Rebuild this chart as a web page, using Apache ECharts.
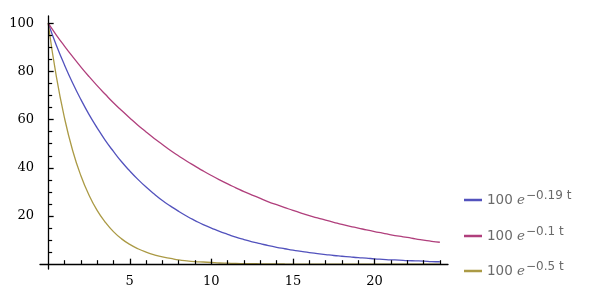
<!DOCTYPE html>
<html>
<head>
<meta charset="utf-8">
<script src="https://cdn.jsdelivr.net/npm/echarts@6/dist/echarts.min.js"></script>
<style>html,body{margin:0;padding:0;background:#fff;}#c{width:600px;height:299px;}</style>
</head>
<body>
<div id="c"></div>
<script>
var tValues = [0,0.5,1,1.5,2,2.5,3,3.5,4,4.5,5,5.5,6,6.5,7,7.5,8,8.5,9,9.5,10,10.5,11,11.5,12,12.5,13,13.5,14,14.5,15,15.5,16,16.5,17,17.5,18,18.5,19,19.5,20,20.5,21,21.5,22,22.5,23,23.5,24];
var seriesA = [100,90.9,82.7,75.2,68.4,62.2,56.6,51.4,46.8,42.5,38.7,35.2,32.0,29.1,26.4,24.1,21.9,19.9,18.1,16.4,15.0,13.6,12.4,11.2,10.2,9.3,8.5,7.7,7.0,6.4,5.8,5.3,4.8,4.4,4.0,3.6,3.3,3.0,2.7,2.5,2.2,2.0,1.8,1.7,1.5,1.4,1.3,1.1,1.0];
var seriesB = [100,95.1,90.5,86.1,81.9,77.9,74.1,70.5,67.0,63.8,60.7,57.7,54.9,52.2,49.7,47.2,44.9,42.7,40.7,38.7,36.8,35.0,33.3,31.7,30.1,28.7,27.3,25.9,24.7,23.5,22.3,21.2,20.2,19.2,18.3,17.4,16.5,15.7,15.0,14.2,13.5,12.9,12.2,11.6,11.1,10.5,10.0,9.5,9.1];
var seriesC = [100,77.9,60.7,47.2,36.8,28.7,22.3,17.4,13.5,10.5,8.2,6.4,5.0,3.9,3.0,2.4,1.8,1.4,1.1,0.9,0.7,0.5,0.4,0.3,0.25,0.2,0.15,0.12,0.1,0.07,0.06,0.04,0.03,0.03,0.02,0.02,0.01,0.01,0.01,0.01,0.0,0.0,0.0,0.0,0.0,0.0,0.0,0.0,0.0];
var seriesNames = ['a', 'b', 'c'];
var exponents = ['\u22120.19 t', '\u22120.1 t', '\u22120.5 t'];
var colors = ['#5252bd', '#b03f7c', '#ab9a45'];
var xTickLabels = [5, 10, 15, 20];
var yTickLabels = [20, 40, 60, 80, 100];
var xMinorTicks = [1,2,3,4,6,7,8,9,11,12,13,14,16,17,18,19,21,22,23,24];
var yMinorTicks = [5,10,15,25,30,35,45,50,55,65,70,75,85,90,95];

function pairs(vals) { return tValues.map(function (t, i) { return [t, vals[i]]; }); }
var allVals = [seriesA, seriesB, seriesC];

var chart = echarts.init(document.getElementById('c'), null, {renderer: 'canvas'});
var labelFont = {fontFamily: 'DejaVu Serif', fontSize: 13, color: '#000'};
var legendTops = [185, 221, 256];
var legends = seriesNames.map(function (n, i) {
  return {
    show: true, orient: 'vertical', left: 459, top: legendTops[i],
    data: [{name: n, icon: 'rect'}], itemWidth: 18, itemHeight: 2.5, itemGap: 0,
    selectedMode: false,
    formatter: function () { return '{n|100 }{e|e}{s|' + exponents[i] + '}'; },
    textStyle: {
      color: '#6a6a6a',
      rich: {
        n: {fontFamily: 'DejaVu Sans', fontSize: 13.5, lineHeight: 20, color: '#6a6a6a'},
        e: {fontFamily: 'DejaVu Serif', fontStyle: 'italic', fontSize: 13.5, lineHeight: 20, color: '#6a6a6a'},
        s: {fontFamily: 'DejaVu Sans', fontSize: 12, lineHeight: 11, verticalAlign: 'top', color: '#6a6a6a', padding: [0, 0, 0, 1]}
      }
    }
  };
});

chart.setOption({
  animation: false,
  backgroundColor: '#fff',
  grid: {left: 40, right: 152, top: 16, bottom: 30, containLabel: false},
  legend: legends,
  xAxis: [{
    type: 'value', min: -0.5, max: 24.5, position: 'bottom', z: 5,
    axisLine: {show: true, onZero: true, lineStyle: {color: '#000', width: 1.3}},
    axisTick: {show: true, inside: true, length: 5.5, customValues: xTickLabels, lineStyle: {color: '#000', width: 1.3}},
    axisLabel: Object.assign({show: true, margin: 6, customValues: xTickLabels}, labelFont),
    splitLine: {show: false}
  }, {
    type: 'value', min: -0.5, max: 24.5, position: 'top', z: 5,
    axisLine: {show: false, onZero: true, onZeroAxisIndex: 0},
    axisTick: {show: true, inside: false, length: 4, customValues: xMinorTicks, lineStyle: {color: '#000', width: 1.2}},
    axisLabel: {show: false},
    splitLine: {show: false}
  }],
  yAxis: [{
    type: 'value', min: -2, max: 103, position: 'left', z: 5,
    axisLine: {show: true, onZero: true, lineStyle: {color: '#000', width: 1.3}},
    axisTick: {show: true, inside: true, length: 5.5, customValues: yTickLabels, lineStyle: {color: '#000', width: 1.3}},
    axisLabel: Object.assign({show: true, margin: 6, customValues: yTickLabels}, labelFont),
    splitLine: {show: false}
  }, {
    type: 'value', min: -2, max: 103, position: 'right', z: 5,
    axisLine: {show: false, onZero: true, onZeroAxisIndex: 0},
    axisTick: {show: true, inside: false, length: 4, customValues: yMinorTicks, lineStyle: {color: '#000', width: 1.2}},
    axisLabel: {show: false},
    splitLine: {show: false}
  }],
  series: seriesNames.map(function (n, i) {
    return {
      name: n, type: 'line', xAxisIndex: 0, yAxisIndex: 0, z: 2,
      data: pairs(allVals[i]), smooth: true, showSymbol: false, symbol: 'none',
      lineStyle: {color: colors[i], width: 1.3}, itemStyle: {color: colors[i]}
    };
  })
});
</script>
</body>
</html>
